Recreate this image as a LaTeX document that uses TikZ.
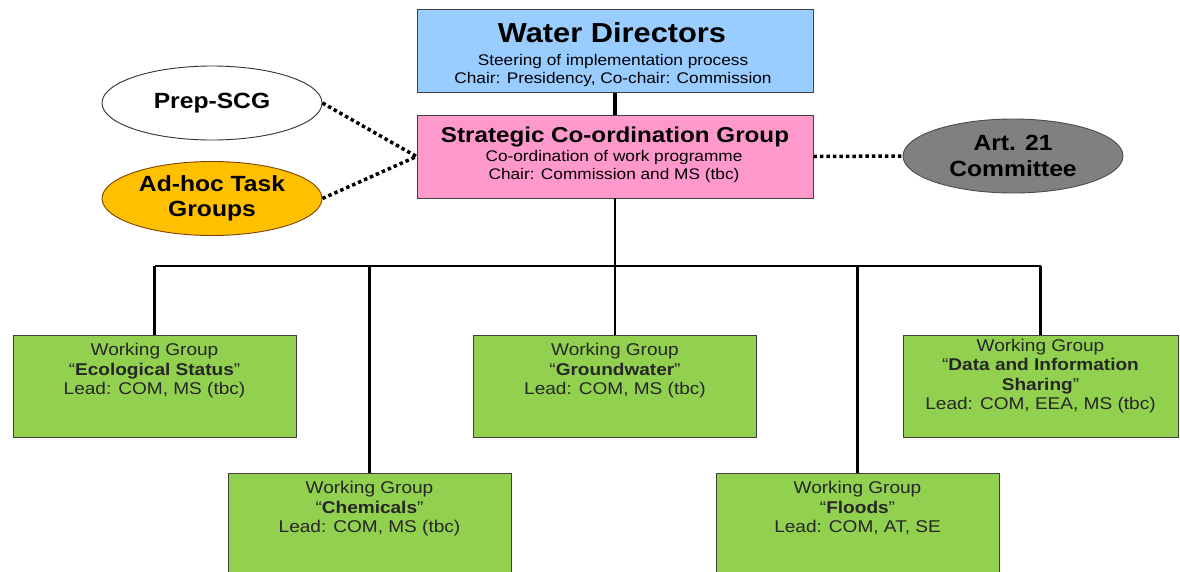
\documentclass[tikz,border=0pt]{standalone}
\usepackage{fontspec}
\setmainfont{Liberation Sans}[FakeStretch=1.12]
\usetikzlibrary{shapes.geometric,positioning,calc}

\definecolor{wdblue}{HTML}{99CCFF}
\definecolor{scgpink}{HTML}{FF99CC}
\definecolor{wggreen}{HTML}{92D050}
\definecolor{taskorange}{HTML}{FFC000}
\definecolor{artgray}{HTML}{808080}

\tikzset{
	panel/.style={draw=black!75,line width=0.9pt,rectangle,inner sep=0pt},
	wdbox/.style={panel,fill=wdblue,minimum width=396pt,minimum height=83pt},
	scgbox/.style={panel,fill=scgpink,minimum width=396pt,minimum height=83pt},
	wgbox/.style={panel,fill=wggreen,minimum width=283pt,minimum height=102pt},
	grp/.style={ellipse,draw=black!80,line width=0.9pt,inner sep=0pt,
		minimum width=220pt,minimum height=74pt,align=center,
		font=\fontsize{22}{25.5}\selectfont\bfseries},
	titletxt/.style={anchor=base,inner sep=0pt,font=\fontsize{27.5}{30}\selectfont\bfseries},
	scgtitle/.style={anchor=base,inner sep=0pt,font=\fontsize{21.6}{24}\selectfont\bfseries},
	subtxt/.style={anchor=base,inner sep=0pt,align=center,font=\fontsize{15.4}{18}\selectfont},
	wgtxt/.style={anchor=base,inner sep=0pt,align=center,text=black!85,
		font=\fontsize{17}{19.5}\selectfont},
	link/.style={line width=2.3pt},
	dotlink/.style={line width=3.5pt,dash pattern=on 3.5pt off 3pt}
}

\begin{document}
\begin{tikzpicture}[x=1pt,y=-1pt]
	\useasboundingbox (0,0) rectangle (1180,571);

	% steering and co-ordination
	\node[wdbox] (wd) at (615,51) {};
	\node[titletxt] (wdtitle) at (612,42) {Water Directors};
	% base = last line
	\node[subtxt] (wdsub) at (613,83) {Steering of implementation process\\Chair: Presidency, Co-chair: Commission};

	\node[scgbox] (scg) at (615,156.5) {};
	\node[scgtitle] (scgtitle) at (615,142) {Strategic Co-ordination Group};
	\node[subtxt] (scgsub) at (614,179) {Co-ordination of work programme\\Chair: Commission and MS (tbc)};

	\draw[line width=4pt] (wd.south) -- (scg.north);

	% side groups
	\node[grp,fill=white] (prep) at (212,103) {Prep-SCG};
	\node[grp,fill=taskorange,draw=orange!50!black] (adhoc) at (212,198.5) {Ad-hoc Task\\Groups};
	\node[grp,fill=artgray,draw=black!70] (art) at (1013,156) {Art. 21\\Committee};

	\draw[dotlink] (prep.east) -- (scg.west);
	\draw[dotlink] (adhoc.east) -- (scg.west);
	\draw[dotlink] (scg.east) -- (art.west);

	% working groups
	\node[wgbox] (eco) at (154.5,386) {};
	\node[wgbox] (gw) at (615,386) {};
	\node[wgbox,minimum width=275pt] (data) at (1040.5,386) {};
	\node[wgbox] (chem) at (369.5,524) {};
	\node[wgbox] (flood) at (857.5,524) {};

	\node[wgtxt] (ecotxt) at ([yshift=-60pt]eco.north) {Working Group\\``\textbf{Ecological Status}''\\Lead: COM, MS (tbc)};
	\node[wgtxt] (gwtxt) at ([yshift=-60pt]gw.north) {Working Group\\``\textbf{Groundwater}''\\Lead: COM, MS (tbc)};
	\node[wgtxt] (datatxt) at ([yshift=-75pt]data.north) {Working Group\\``\textbf{Data and Information}\\\textbf{Sharing}''\\Lead: COM, EEA, MS (tbc)};
	\node[wgtxt] (chemtxt) at ([yshift=-60pt]chem.north) {Working Group\\``\textbf{Chemicals}''\\Lead: COM, MS (tbc)};
	\node[wgtxt] (floodtxt) at ([yshift=-60pt]flood.north) {Working Group\\``\textbf{Floods}''\\Lead: COM, AT, SE};

	% tree
	\coordinate (bus) at (615,266);
	\draw[link] (scg.south) -- (scg.south |- bus);
	\draw[link] (eco.north |- bus) -- (data.north |- bus);
	\foreach \g in {eco,chem,gw,flood,data}
		\draw[link] (\g.north |- bus) -- (\g.north);

\end{tikzpicture}
\end{document}
